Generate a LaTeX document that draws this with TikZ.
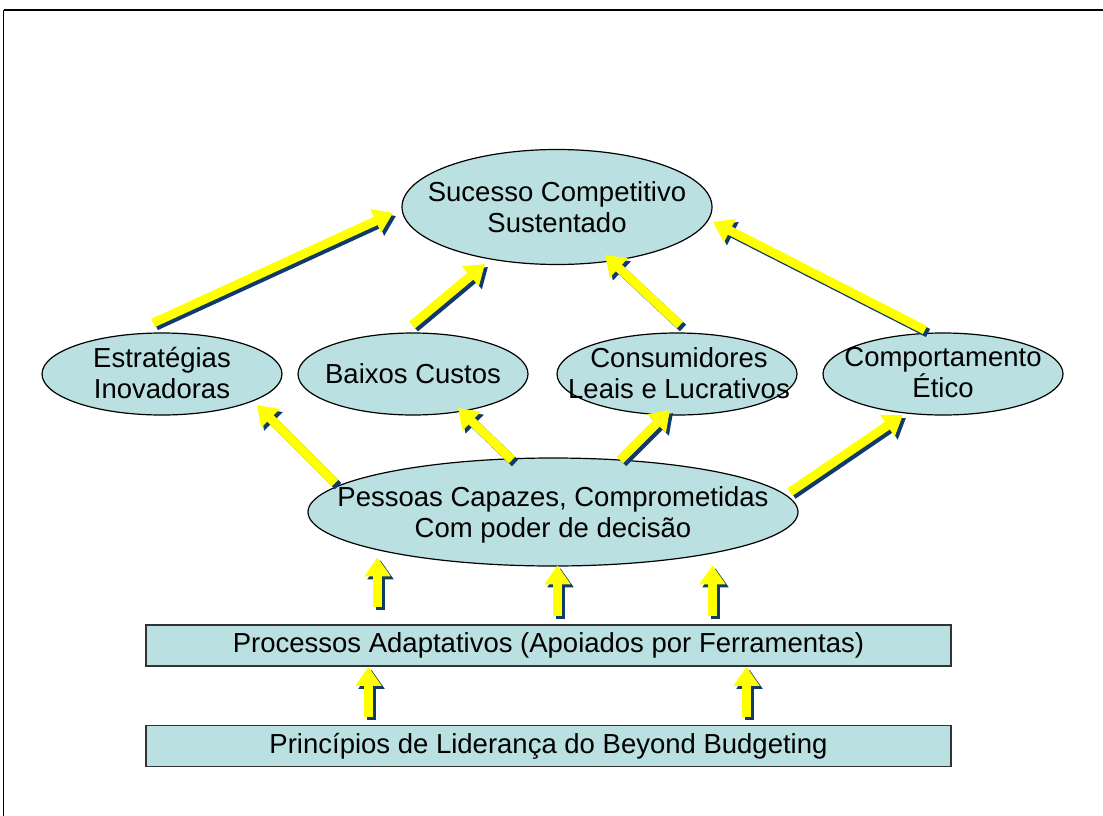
\documentclass[tikz,border=0pt]{standalone}
\usepackage{fontspec}
\setmainfont{Liberation Sans}
\usetikzlibrary{shapes.geometric,arrows.meta,calc}
\definecolor{teal1}{RGB}{186,224,226}
\definecolor{navy1}{RGB}{16,58,108}
\definecolor{yel1}{RGB}{255,255,0}
\tikzset{
  txt/.style={align=center, font=\fontsize{27.5}{31}\selectfont, inner sep=0pt},
  ell/.style={ellipse, draw=black, line width=1.2pt, fill=teal1, inner sep=0pt},
  bar/.style={rectangle, draw=black!80, line width=1.5pt, fill=teal1, inner sep=0pt,
    minimum width=805pt, minimum height=41pt, font=\fontsize{27.5}{31}\selectfont},
  yelarr/.style={draw=yel1, line width=9pt, -{Triangle[width=25pt,length=19pt]}},
  shdarr/.style={draw=navy1, line width=9pt, -{Triangle[width=25pt,length=19pt]}},
}
\newcommand\fatarr[2]{%
  \draw[shdarr] ([shift={(3,3)}]#1) -- ([shift={(3,3)}]#2);
  \draw[yelarr] (#1) -- (#2);}
\begin{document}
\begin{tikzpicture}[x=1pt,y=-1pt]
\useasboundingbox (0,0) rectangle (1103,816);
\fill[white] (0,0) rectangle (1103,816);
% frame
\draw[line width=2pt] (3.5,10) -- (1103,10);
\draw[line width=1.5pt] (3.5,10) -- (3.5,816);
% nodes
\node[ell, minimum width=310pt, minimum height=115pt] (top) at (557,207) {};
\node[txt] (topt) at (557,207) {Sucesso Competitivo\\Sustentado};
\node[ell, minimum width=240pt, minimum height=82pt] (est) at (162,374) {};
\node[txt] (estt) at (162,373) {Estratégias\\Inovadoras};
\node[ell, minimum width=230pt, minimum height=82pt] (baix) at (413,374) {};
\node[txt] (baixt) at (413,374) {Baixos Custos};
\node[ell, minimum width=240pt, minimum height=82pt] (cons) at (677,374) {};
\node[txt] (const) at (679,373) {Consumidores\\Leais e Lucrativos};
\node[ell, minimum width=240pt, minimum height=82pt] (comp) at (943,374) {};
\node[txt] (compt) at (943,373) {Comportamento\\Ético};
\node[ell, minimum width=490pt, minimum height=108pt] (pes) at (553,512) {};
\node[txt] (pest) at (553,515) {Pessoas Capazes, Comprometidas\\Com poder de decisão};
\node[bar] (proc) at (548.5,645.5) {Processos Adaptativos (Apoiados por Ferramentas)};
\node[bar] (prin) at (548.5,746) {Princípios de Liderança do Beyond Budgeting};
% arrow end points
\coordinate (a1s) at ($(est.center)+(-9,-51)$);
\coordinate (a1e) at ($(top.center)+(-164,6)$);
\coordinate (a2s) at ($(baix.center)+(-1,-49)$);
\coordinate (a2e) at ($(top.center)+(-72,57)$);
\coordinate (a3s) at ($(cons.center)+(3,-49)$);
\coordinate (a3e) at ($(top.center)+(48,48)$);
\coordinate (a4s) at ($(comp.center)+(-18,-44)$);
\coordinate (a4e) at ($(top.center)+(156,15)$);
\coordinate (b1s) at ($(pes.center)+(-218,-29)$);
\coordinate (b1e) at ($(est.center)+(95,31)$);
\coordinate (b2s) at ($(pes.center)+(-41,-52)$);
\coordinate (b2e) at ($(baix.center)+(45,34)$);
\coordinate (b3s) at ($(pes.center)+(67,-52)$);
\coordinate (b3e) at ($(cons.center)+(-7,36)$);
\coordinate (b4s) at ($(pes.center)+(237,-20)$);
\coordinate (b4e) at ($(comp.center)+(-40,41)$);
\coordinate (c1s) at ($(proc.north)+(-171,-17)$);
\coordinate (c1e) at ($(proc.north)+(-171,-67)$);
\coordinate (c2s) at ($(proc.north)+(9,-8)$);
\coordinate (c2e) at ($(proc.north)+(9,-59)$);
\coordinate (c3s) at ($(proc.north)+(164,-8)$);
\coordinate (c3e) at ($(proc.north)+(164,-59)$);
\coordinate (d1s) at ($(prin.north)+(-180,-8)$);
\coordinate (d1e) at ($(prin.north)+(-180,-58)$);
\coordinate (d2s) at ($(prin.north)+(198,-8)$);
\coordinate (d2e) at ($(prin.north)+(198,-58)$);
% arrows
\fatarr{a1s}{a1e}
\fatarr{a2s}{a2e}
\fatarr{a3s}{a3e}
\fatarr{a4s}{a4e}
\fatarr{b1s}{b1e}
\fatarr{b2s}{b2e}
\fatarr{b3s}{b3e}
\fatarr{b4s}{b4e}
\fatarr{c1s}{c1e}
\fatarr{c2s}{c2e}
\fatarr{c3s}{c3e}
\fatarr{d1s}{d1e}
\fatarr{d2s}{d2e}
\end{tikzpicture}
\end{document}
